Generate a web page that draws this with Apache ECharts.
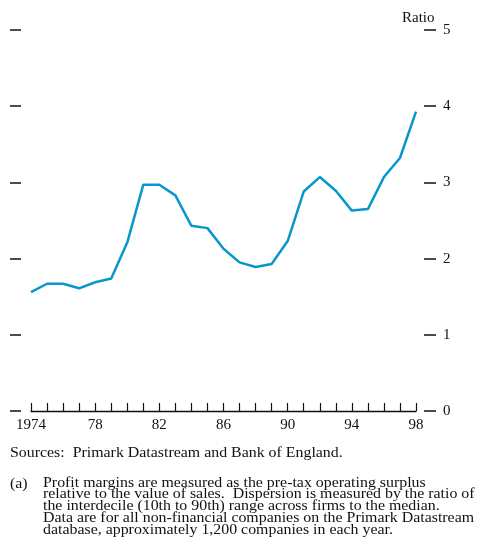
<!DOCTYPE html>
<html>
<head>
<meta charset="utf-8">
<script src="https://cdn.jsdelivr.net/npm/echarts@6/dist/echarts.min.js"></script>
<style>
html,body{margin:0;padding:0;background:#fff;}
#chart{width:479px;height:556px;}
</style>
</head>
<body>
<div id="chart"></div>
<script>
const years = ['1974','1975','1976','1977','1978','1979','1980','1981','1982','1983','1984','1985','1986','1987','1988','1989','1990','1991','1992','1993','1994','1995','1996','1997','1998'];
const dispersion = [1.56,1.67,1.67,1.61,1.69,1.74,2.21,2.97,2.97,2.83,2.43,2.40,2.13,1.95,1.89,1.93,2.23,2.88,3.07,2.89,2.63,2.65,3.07,3.32,3.93];
const yMin = 0, yMax = 5, yInterval = 1;
const unitLabel = 'Ratio';
const sourceText = 'Sources:  Primark Datastream and Bank of England.';
const noteMark = '(a)';
const noteLines = [
  'Profit margins are measured as the pre-tax operating surplus',
  'relative to the value of sales.  Dispersion is measured by the ratio of',
  'the interdecile (10th to 90th) range across firms to the median.',
  'Data are for all non-financial companies on the Primark Datastream',
  'database, approximately 1,200 companies in each year.'
];

const FONT = "'Liberation Serif', 'DejaVu Serif', serif";
const INK = '#111';
const chart = echarts.init(document.getElementById('chart'), null, {renderer:'canvas'});
chart.setOption({
  animation:false,
  backgroundColor:'#fff',
  grid:{left:31, right:63, top:30, bottom:145},
  xAxis:{
    type:'category', data:years, boundaryGap:false,
    axisLine:{show:true, lineStyle:{color:INK, width:1.3}},
    axisTick:{show:true, inside:true, length:8, interval:0, lineStyle:{color:INK, width:1.2}},
    axisLabel:{interval:3, margin:7, fontFamily:FONT, fontSize:15, color:INK,
      formatter:(v,i)=> i===0 ? v : v.slice(2)},
    splitLine:{show:false}
  },
  yAxis:[
    {type:'value', position:'left', offset:10, min:yMin, max:yMax, interval:yInterval,
      axisLine:{show:false}, axisTick:{show:true, length:11, lineStyle:{color:INK, width:1.5}},
      axisLabel:{show:false}, splitLine:{show:false}},
    {type:'value', position:'right', offset:8, min:yMin, max:yMax, interval:yInterval,
      axisLine:{show:false}, axisTick:{show:true, length:12, lineStyle:{color:INK, width:1.5}},
      axisLabel:{show:true, margin:19, fontFamily:FONT, fontSize:15, color:INK},
      splitLine:{show:false}}
  ],
  series:[{
    type:'line', data:dispersion, xAxisIndex:0, yAxisIndex:0,
    showSymbol:false, symbol:'none',
    lineStyle:{color:'#0897cc', width:2.5}
  }],
  graphic:[
    {type:'text', left:402, top:11, style:{text:unitLabel, font:'15px '+FONT, fill:INK}},
    {type:'text', x:10, y:446, scaleX:1.135, style:{text:sourceText, font:'14px '+FONT, fill:INK}},
    {type:'text', x:10, y:477, scaleX:1.135, style:{text:noteMark, font:'14px '+FONT, fill:INK}},
    {type:'text', x:43, y:477, scaleX:1.135, style:{text:noteLines.join('\n'), font:'14px '+FONT, fill:INK, lineHeight:11.8}}
  ]
});
</script>
</body>
</html>
